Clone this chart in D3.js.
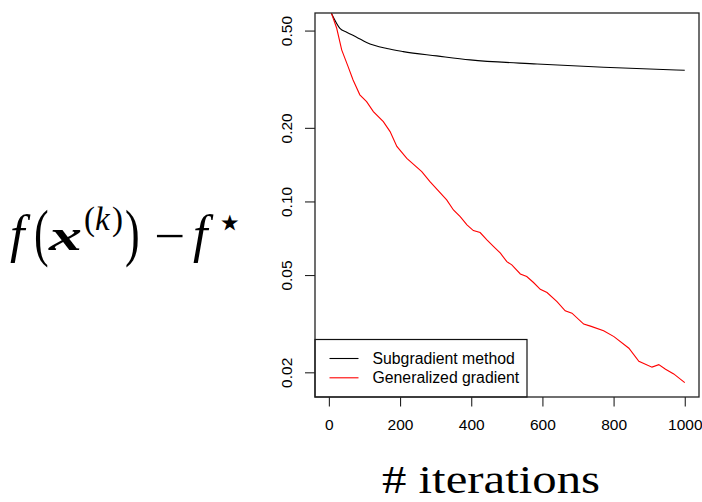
<!DOCTYPE html>
<html>
<head>
<meta charset="utf-8">
<script src="https://cdn.jsdelivr.net/npm/d3@7"></script>
<style>
  body { margin: 0; background: #fff; }
  svg { display: block; }
  .tick text { font-family: "Liberation Sans", Arial, sans-serif; }
</style>
</head>
<body>
<div id="chart"></div>
<script>
// iterations at which the subgradient curve was read
const subIters = [7, 31, 50, 78, 106, 163, 209, 303, 397, 585, 772, 1000];
const subValues = [0.589, 0.511, 0.4925, 0.470, 0.447, 0.422, 0.410, 0.394, 0.3795, 0.365, 0.354, 0.344];

const genIters = [7, 22, 36, 54, 68, 87, 106, 125, 153, 172, 191, 219, 261, 284, 331, 350, 369, 388, 406,
  425, 444, 463, 482, 500, 514, 538, 556, 575, 594, 613, 641, 664, 683, 716, 735, 772, 801, 843, 871,
  908, 927, 946, 969, 1000];
const genValues = [0.589, 0.511, 0.417, 0.356, 0.314, 0.273, 0.256, 0.233, 0.212, 0.193, 0.168, 0.150,
  0.1325, 0.1205, 0.1015, 0.0923, 0.0867, 0.0802, 0.076, 0.0746, 0.0696, 0.0653, 0.0614, 0.0567, 0.055,
  0.0505, 0.0493, 0.0466, 0.0437, 0.0424, 0.0389, 0.0357, 0.0349, 0.0315, 0.0309, 0.0296, 0.0280, 0.0251,
  0.0222, 0.0210, 0.0215, 0.0206, 0.0197, 0.01815];

const xTicks = [0, 200, 400, 600, 800, 1000];
const yTicks = [0.02, 0.05, 0.10, 0.20, 0.50];
const legendLabels = ["Subgradient method", "Generalized gradient"];
const seriesColors = ["#000000", "#ff0000"];

const width = 702, height = 502;
const box = { left: 315, right: 699, top: 13, bottom: 397 };

const svg = d3.select("#chart").append("svg")
    .attr("width", width)
    .attr("height", height);

const x = d3.scaleLinear().domain([-39, 1040]).range([box.left, box.right]);
const y = d3.scaleLog().domain([0.01585, 0.590]).range([box.bottom, box.top]);

svg.append("clipPath").attr("id", "plot-clip")
  .append("rect")
    .attr("x", box.left).attr("y", box.top)
    .attr("width", box.right - box.left).attr("height", box.bottom - box.top);

const series = [
    { iters: subIters, values: subValues, curve: d3.curveMonotoneX },
    { iters: genIters, values: genValues, curve: d3.curveLinear }
];

series.forEach((s, i) => {
    const pts = s.iters.map((it, j) => [it, s.values[j]]);
    const line = d3.line().x(d => x(d[0])).y(d => y(d[1])).curve(s.curve);
    svg.append("path")
        .datum(pts)
        .attr("clip-path", "url(#plot-clip)")
        .attr("d", line)
        .attr("fill", "none")
        .attr("stroke", seriesColors[i])
        .attr("stroke-width", 1.1);
});

// legend (bottom-left, sits on the box)
const legend = svg.append("g");
legend.append("rect")
    .attr("x", box.left).attr("y", 339.5)
    .attr("width", 212).attr("height", box.bottom - 339.5)
    .attr("fill", "#fff")
    .attr("stroke", "#111").attr("stroke-width", 1.2);
legendLabels.forEach((lab, i) => {
    const ly = 358.5 + i * 19.3;
    legend.append("line")
        .attr("x1", 329.5).attr("x2", 358.5)
        .attr("y1", ly).attr("y2", ly)
        .attr("stroke", seriesColors[i]).attr("stroke-width", 1.1);
    legend.append("text")
        .attr("x", 372.5).attr("y", ly + 5.5)
        .text(lab)
        .attr("font-family", "'Liberation Sans', Arial, sans-serif")
        .attr("font-size", "15.8px")
        .attr("fill", "#000");
});

// plot frame
svg.append("rect")
    .attr("x", box.left).attr("y", box.top)
    .attr("width", box.right - box.left).attr("height", box.bottom - box.top)
    .attr("fill", "none")
    .attr("stroke", "#222").attr("stroke-width", 1.3);

// axes
const xAxis = svg.append("g")
    .attr("transform", `translate(0,${box.bottom})`)
    .call(d3.axisBottom(x).tickValues(xTicks).tickSize(9.5).tickPadding(12).tickFormat(d3.format("d")));
xAxis.select(".domain").remove();
xAxis.selectAll(".tick line").attr("stroke", "#222").attr("stroke-width", 1.1);
xAxis.selectAll(".tick text").attr("font-size", "15.5px").attr("fill", "#000");

const yAxis = svg.append("g")
    .attr("transform", `translate(${box.left},0)`)
    .call(d3.axisLeft(y).tickValues(yTicks).tickSize(10).tickFormat(d3.format(".2f")));
yAxis.select(".domain").remove();
yAxis.selectAll(".tick line").attr("stroke", "#222").attr("stroke-width", 1.1);
yAxis.selectAll(".tick text")
    .attr("font-size", "15.5px").attr("fill", "#000")
    .attr("x", null).attr("dy", null)
    .attr("text-anchor", "middle")
    .attr("transform", "translate(-23,0) rotate(-90)");

// axis titles
const serif = "'Liberation Serif', 'DejaVu Serif', serif";
svg.append("text")
    .attr("x", 382).attr("y", 493)
    .attr("font-family", serif)
    .attr("font-size", "40px")
    .attr("textLength", 218)
    .attr("lengthAdjust", "spacingAndGlyphs")
    .text("# iterations");

// f(x^(k)) - f*, each symbol set like typeset math
const ylab = svg.append("g").attr("font-family", serif).attr("fill", "#000");
const piece = (px, py, txt, size, opts = {}) => {
    const t = ylab.append("text")
        .attr("transform", `translate(${px},${py}) scale(1,${opts.sy || 1})`)
        .attr("font-size", size + "px").text(txt);
    if (opts.italic) t.attr("font-style", "italic");
    if (opts.bold) t.attr("font-weight", "bold");
    if (opts.len) t.attr("textLength", opts.len).attr("lengthAdjust", "spacingAndGlyphs");
    return t;
};
piece(10, 252, "f", 52, { italic: true });
piece(34, 253.5, "(", 44, { sy: 1.42 });
piece(49, 250, "x", 45, { italic: true, bold: true, len: 33 });
piece(84, 230, "(", 33);
piece(95, 230, "k", 33, { italic: true });
piece(112, 230, ")", 33);
piece(125, 253.5, ")", 44, { sy: 1.42 });
piece(154, 252, "\u2212", 48, { len: 31 });
piece(193, 252, "f", 52, { italic: true });
piece(216, 237, "\u22C6", 44);
</script>
</body>
</html>
